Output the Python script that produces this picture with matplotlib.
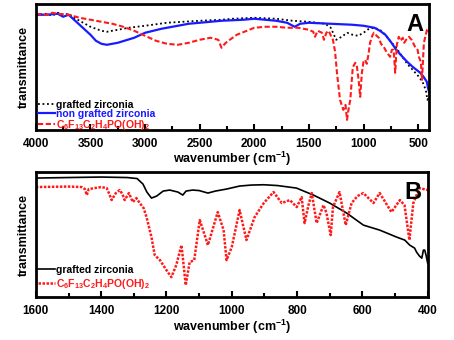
import numpy as np
import matplotlib.pyplot as plt
from matplotlib.ticker import MultipleLocator

plt.rcParams['font.family'] = ['Liberation Sans', 'DejaVu Sans']
plt.rcParams['font.weight'] = 'bold'
plt.rcParams['mathtext.fontset'] = 'custom'
plt.rcParams['mathtext.bf'] = 'Liberation Sans:bold'
plt.rcParams['mathtext.rm'] = 'Liberation Sans:bold'
plt.rcParams['mathtext.default'] = 'bf'

#Panel A: full range spectra (transmittance, arbitrary units)
wnA_graft = [4000, 3900, 3850, 3800, 3750, 3700, 3650, 3600, 3500, 3400, 3350, 3250, 3150, 3000,
             2800, 2500, 2300, 2200, 2000, 1800, 1650, 1500, 1350, 1300, 1250, 1200, 1150, 1100,
             1050, 1000, 950, 900, 850, 800, 750, 700, 650, 600, 550, 500, 460, 430, 415, 405, 400]
tA_graft = [115, 116, 114, 117, 115, 116, 112, 109, 103, 99, 98, 100, 102, 104,
            107, 109, 110, 111, 112, 111, 109, 108, 106, 102, 90, 93, 97, 95,
            94, 97, 101, 102, 100, 95, 88, 82, 74, 66, 60, 54, 48, 40, 30, 32, 30]

wnA_non = [4000, 3900, 3800, 3750, 3700, 3650, 3600, 3500, 3450, 3400, 3350, 3250, 3100, 3000,
           2850, 2750, 2600, 2500, 2300, 2100, 2000, 1800, 1700, 1630, 1580, 1500, 1300, 1100,
           1000, 900, 850, 800, 750, 700, 660, 600, 550, 480, 450, 420, 410, 400]
tA_non = [115, 115, 116, 113, 115, 110, 105, 95, 89, 86, 85, 87, 92, 97,
          101, 103, 106, 107, 109, 110, 111, 109, 107, 103, 106, 107, 106, 105,
          104, 102, 99, 95, 88, 80, 75, 68, 63, 57, 53, 48, 42, 38]

wnA_acid = [4000, 3900, 3850, 3800, 3700, 3600, 3500, 3400, 3300, 3200, 3100, 3000, 2900, 2800,
            2700, 2600, 2500, 2400, 2330, 2300, 2270, 2250, 2160, 2000, 1900, 1800, 1700, 1600,
            1500, 1460, 1444, 1420, 1380, 1362, 1340, 1320, 1280, 1260, 1243, 1215, 1185, 1165,
            1151, 1135, 1121, 1100, 1096, 1075, 1060, 1045, 1030, 1015, 1000, 985, 970, 955,
            940, 920, 905, 880, 860, 840, 815, 790, 757, 740, 724, 710, 695, 677, 660, 640,
            627, 610, 584, 560, 528, 505, 493, 475, 464, 455, 447, 430, 418, 410, 400]
tA_acid = [116, 115, 117, 116, 115, 112, 110, 108, 106, 103, 99, 94, 89, 86,
           85, 87, 90, 92, 90, 82, 86, 88, 95, 102, 103, 103, 102, 102,
           100, 98, 93, 99, 97, 90, 97, 99, 90, 78, 57, 30, 20, 25,
           10, 22, 30, 60, 63, 67, 63, 50, 33, 57, 68, 70, 66, 75,
           87, 94, 97, 94, 92, 86, 83, 78, 73, 80, 80, 57, 85, 93, 89, 92,
           87, 90, 93, 90, 83, 80, 73, 68, 50, 70, 87, 95, 100, 101, 98]

#Panel B: fingerprint region
wnB_graft = [1600, 1500, 1400, 1320, 1290, 1272, 1260, 1246, 1230, 1210, 1190, 1165, 1150, 1140,
             1120, 1100, 1073, 1050, 1016, 976, 940, 902, 860, 802, 750, 700, 648, 597, 547,
             495, 470, 455, 440, 434, 425, 418, 413, 409, 405, 400]
tB_graft = [119, 119.5, 120, 119.5, 118.5, 113, 105, 99, 101, 106, 107, 105, 102, 106,
            107, 106.5, 104, 106, 108, 111, 112, 112.3, 111.5, 109, 102, 94, 84, 72, 67,
            60, 57, 52, 49, 45, 41, 39, 47, 47, 42, 34]

wnB_acid = [1600, 1500, 1460, 1450, 1444, 1438, 1400, 1383, 1375, 1368, 1355, 1343, 1335, 1328,
            1315, 1303, 1292, 1282, 1270, 1261, 1246, 1236, 1220, 1200, 1185, 1170, 1154, 1141,
            1129, 1115, 1098, 1073, 1043, 1025, 1016, 1000, 976, 955, 930, 902, 872, 847, 822,
            801, 786, 777, 765, 755, 740, 719, 710, 697, 690, 670, 651, 633, 615, 597, 566,
            547, 511, 485, 471, 456, 444, 425, 400]
tB_acid = [110, 110.5, 110, 108, 102, 108, 110, 109, 103, 97, 104, 107, 103, 97,
           104, 95, 99, 94, 89, 80, 60, 42, 37, 27, 20, 32, 52, 12,
           35, 37, 77, 52, 85, 67, 37, 50, 87, 57, 80, 94, 105, 94, 97,
           90, 100, 74, 92, 104, 74, 92, 84, 62, 90, 105, 72, 94, 101, 104, 94,
           104, 85, 97, 92, 57, 94, 109, 107]

fig = plt.figure(figsize=(4.54, 3.4), dpi=100)
axA = fig.add_axes([0.079, 0.618, 0.866, 0.371])
axB = fig.add_axes([0.079, 0.126, 0.863, 0.368])

axA.plot(wnA_graft, tA_graft, color='k', ls=(0, (1, 1.5)), lw=1.3, label='grafted zirconia')
axA.plot(wnA_non, tA_non, color='#1a1aff', ls='-', lw=1.6, label='non grafted zirconia')
axA.plot(wnA_acid, tA_acid, color='#ff1a1a', ls=(0, (2.5, 1.2)), lw=1.5,
         label=r'C$_6$F$_{13}$C$_2$H$_4$PO(OH)$_2$')
axA.set_xlim(4000, 400)
axA.set_ylim(0, 126)
axA.xaxis.set_major_locator(MultipleLocator(500))
axA.xaxis.set_minor_locator(MultipleLocator(250))

axB.plot(wnB_graft, tB_graft, color='k', ls='-', lw=1.2, label='grafted zirconia')
axB.plot(wnB_acid, tB_acid, color='#ff1a1a', ls=(0, (1, 0.6)), lw=1.8,
         label=r'C$_6$F$_{13}$C$_2$H$_4$PO(OH)$_2$')
axB.set_xlim(1600, 400)
axB.set_ylim(0, 125)
axB.xaxis.set_major_locator(MultipleLocator(200))
axB.xaxis.set_minor_locator(MultipleLocator(100))

for ax, tag, lsp, anc in [(axA, 'A', -0.1, -0.065), (axB, 'B', 0.2, 0.0)]:
    for s in ax.spines.values():
        s.set_linewidth(2)
    ax.set_yticks([])
    ax.tick_params(axis='x', which='major', direction='in', length=4, width=1.5,
                   labelsize=8.5, pad=6)
    ax.tick_params(axis='x', which='minor', direction='in', length=3, width=1.5)
    ax.set_xlabel(r'wavenumber (cm$^{-1}$)', fontsize=9, fontweight='bold', labelpad=0)
    ax.set_ylabel('transmittance', fontsize=9, fontweight='bold', labelpad=4)
    ax.text(0.985, 0.93, tag, transform=ax.transAxes, ha='right', va='top',
            fontsize=17, fontweight='bold')
    leg = ax.legend(loc='lower left', bbox_to_anchor=(-0.01, anc), frameon=False,
                    fontsize=7.5, handlelength=1.6, handletextpad=0.1, labelspacing=lsp,
                    borderaxespad=0.2)
    for txt, line in zip(leg.get_texts(), leg.get_lines()):
        txt.set_color(line.get_color())
        txt.set_fontweight('bold')

fig.savefig('out.png', dpi=100)
